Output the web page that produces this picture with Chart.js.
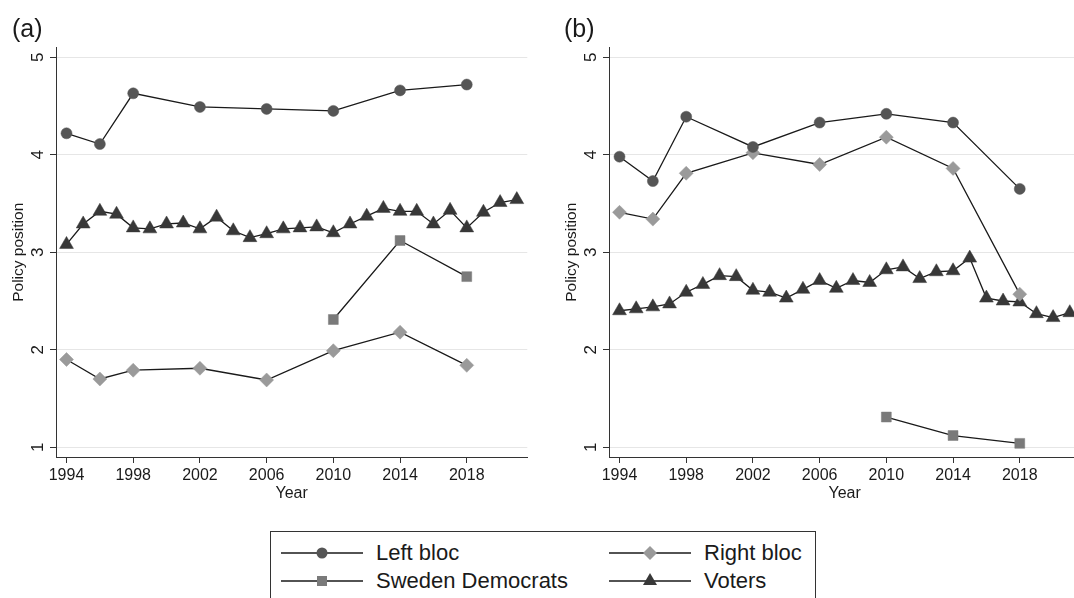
<!DOCTYPE html>
<html>
<head>
<meta charset="utf-8">
<script src="https://cdn.jsdelivr.net/npm/chart.js@4.4.1/dist/chart.umd.min.js"></script>
<style>
  html, body { margin: 0; padding: 0; background: #fff; }
  body { width: 1074px; height: 598px; overflow: hidden; position: relative;
         font-family: "Liberation Sans", Arial, Helvetica, sans-serif; color: #1a1a1a; }
  .panel { position: absolute; top: 0; width: 540px; height: 510px; }
  .tag { position: absolute; top: 12px; font-size: 25px; line-height: 32px; }
  #legend { position: absolute; left: 270px; top: 531px; width: 546px; height: 90px;
            border: 1px solid #333; box-sizing: border-box; }
  .item { position: absolute; height: 24px; display: flex; align-items: center; font-size: 22px; }
  .item svg { margin-right: 13px; }
</style>
</head>
<body>
<div class="panel" style="left:0"><canvas id="chartA"></canvas></div>
<div class="panel" style="left:553px"><canvas id="chartB"></canvas></div>
<div class="tag" style="left:12px">(a)</div>
<div class="tag" style="left:564px">(b)</div>
<div id="legend"></div>

<script>
// years
const electionYears = [1994, 1996, 1998, 2002, 2006, 2010, 2014, 2018];
const sdYears = [2010, 2014, 2018];
const voterYears = [1994, 1995, 1996, 1997, 1998, 1999, 2000, 2001, 2002, 2003, 2004, 2005, 2006, 2007,
  2008, 2009, 2010, 2011, 2012, 2013, 2014, 2015, 2016, 2017, 2018, 2019, 2020, 2021];
const xTicks = [1994, 1998, 2002, 2006, 2010, 2014, 2018];
const yTicks = [1, 2, 3, 4, 5];

// panel (a)
const leftA = [4.22, 4.11, 4.63, 4.49, 4.47, 4.45, 4.66, 4.72];
const rightA = [1.90, 1.70, 1.79, 1.81, 1.69, 1.99, 2.18, 1.84];
const sdA = [2.31, 3.12, 2.75];
const votersA = [3.08, 3.29, 3.42, 3.39, 3.25, 3.24, 3.29, 3.30, 3.24, 3.36, 3.22, 3.15, 3.19, 3.24,
  3.25, 3.26, 3.20, 3.29, 3.37, 3.45, 3.42, 3.42, 3.29, 3.43, 3.25, 3.41, 3.51, 3.54];

// panel (b)
const leftB = [3.98, 3.73, 4.39, 4.08, 4.33, 4.42, 4.33, 3.65];
const rightB = [3.41, 3.34, 3.81, 4.02, 3.90, 4.18, 3.86, 2.57];
const sdB = [1.31, 1.12, 1.04];
const votersB = [2.40, 2.42, 2.44, 2.47, 2.59, 2.67, 2.76, 2.75, 2.61, 2.59, 2.53, 2.62, 2.71, 2.63,
  2.71, 2.69, 2.82, 2.85, 2.73, 2.80, 2.81, 2.94, 2.53, 2.50, 2.49, 2.37, 2.33, 2.38];

const FONT = '"Liberation Sans", Arial, Helvetica, sans-serif';
const LINE = '#1a1a1a';

const series = [
  { label: 'Left bloc', style: 'circle', color: '#555555', radius: 5.5 },
  { label: 'Right bloc', style: 'rectRot', color: '#9a9a9a', radius: 7 },
  { label: 'Sweden Democrats', style: 'rect', color: '#7a7a7a', radius: 7 },
  { label: 'Voters', style: 'triangle', color: '#383838', radius: 8 }
];

function pts(xs, ys) {
  return xs.map((x, i) => ({ x: x, y: ys[i] }));
}

function ds(s, data) {
  return {
    label: s.label,
    data: data,
    borderColor: LINE,
    borderWidth: 1.3,
    pointStyle: s.style,
    pointRadius: s.radius,
    pointBackgroundColor: s.color,
    pointBorderColor: s.color,
    pointBorderWidth: 0.5,
    tension: 0
  };
}

// Stata style rotated y tick labels
const rotatedYTicks = {
  id: 'rotatedYTicks',
  afterDraw(chart) {
    const ys = chart.scales.y;
    const ctx = chart.ctx;
    ctx.save();
    ctx.font = '17px ' + FONT;
    ctx.fillStyle = '#1a1a1a';
    ctx.textAlign = 'center';
    ctx.textBaseline = 'middle';
    ys.ticks.forEach(t => {
      ctx.save();
      ctx.translate(ys.right - 18, ys.getPixelForValue(t.value));
      ctx.rotate(-Math.PI / 2);
      ctx.fillText(String(t.value), 0, 0);
      ctx.restore();
    });
    ctx.restore();
  }
};

function makePanel(id, left, right, sd, voters) {
  new Chart(document.getElementById(id), {
    type: 'line',
    data: {
      datasets: [
        ds(series[0], pts(electionYears, left)),
        ds(series[1], pts(electionYears, right)),
        ds(series[2], pts(sdYears, sd)),
        ds(series[3], pts(voterYears, voters))
      ]
    },
    options: {
      responsive: true,
      maintainAspectRatio: false,
      animation: false,
      layout: { padding: { top: 47.5, right: 12.7, left: 0, bottom: 0 } },
      plugins: { legend: { display: false }, tooltip: { enabled: false } },
      scales: {
        x: {
          type: 'linear',
          min: 1993.37,
          max: 2021.63,
          afterBuildTicks: sc => { sc.ticks = xTicks.map(v => ({ value: v })); },
          afterFit: sc => { sc.height = 53; },
          grid: { drawOnChartArea: false, drawTicks: true, tickLength: 6, tickColor: '#333', tickWidth: 1 },
          border: { color: '#333', width: 1 },
          ticks: { color: '#1a1a1a', font: { family: FONT, size: 16 }, padding: 3,
                   maxRotation: 0, callback: v => String(v) },
          title: { display: true, text: 'Year', color: '#1a1a1a',
                   font: { family: FONT, size: 16 }, padding: { top: 0, bottom: 7 } }
        },
        y: {
          min: 0.9,
          max: 5.1,
          afterBuildTicks: sc => { sc.ticks = yTicks.map(v => ({ value: v })); },
          afterFit: sc => { sc.width = 56; },
          grid: { color: '#e6e6e6', lineWidth: 1, drawTicks: true, tickLength: 6, tickColor: '#333' },
          border: { color: '#333', width: 1 },
          ticks: { display: false },
          title: { display: true, text: 'Policy position', color: '#1a1a1a',
                   font: { family: FONT, size: 15.5 }, padding: { top: 9.5, bottom: 0 } }
        }
      }
    },
    plugins: [rotatedYTicks]
  });
}

makePanel('chartA', leftA, rightA, sdA, votersA);
makePanel('chartB', leftB, rightB, sdB, votersB);

// legend (HTML text, small svg keys)
function keySvg(s) {
  let mark = '';
  const c = s.color;
  if (s.style === 'circle') mark = `<circle cx="41" cy="12" r="5.5" fill="${c}"/>`;
  if (s.style === 'rectRot') mark = `<polygon points="41,5 48,12 41,19 34,12" fill="${c}"/>`;
  if (s.style === 'rect') mark = `<rect x="36" y="7" width="10" height="10" fill="${c}"/>`;
  if (s.style === 'triangle') mark = `<polygon points="41,4 48,16 34,16" fill="${c}"/>`;
  return `<svg width="82" height="24"><line x1="0" y1="12" x2="82" y2="12" stroke="${LINE}" stroke-width="1.5"/>${mark}</svg>`;
}

const legendPos = [
  { left: 10, top: 9 },
  { left: 338, top: 9 },
  { left: 10, top: 37 },
  { left: 338, top: 37 }
];
const legendEl = document.getElementById('legend');
series.forEach((s, i) => {
  const div = document.createElement('div');
  div.className = 'item';
  div.style.left = legendPos[i].left + 'px';
  div.style.top = legendPos[i].top + 'px';
  div.innerHTML = keySvg(s) + '<span>' + s.label + '</span>';
  legendEl.appendChild(div);
});
</script>
</body>
</html>
